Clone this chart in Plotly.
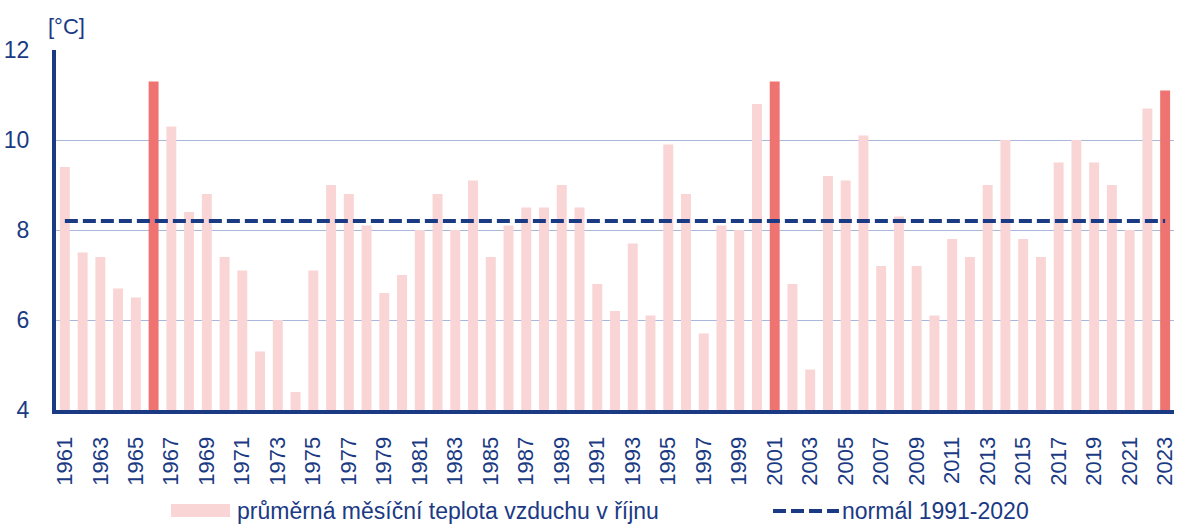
import plotly.graph_objects as go

years = list(range(1961, 2024))
temps = [9.4, 7.5, 7.4, 6.7, 6.5, 11.3, 10.3, 8.4, 8.8, 7.4,
         7.1, 5.3, 6.0, 4.4, 7.1, 9.0, 8.8, 8.1, 6.6, 7.0,
         8.0, 8.8, 8.0, 9.1, 7.4, 8.1, 8.5, 8.5, 9.0, 8.5,
         6.8, 6.2, 7.7, 6.1, 9.9, 8.8, 5.7, 8.1, 8.0, 10.8,
         11.3, 6.8, 4.9, 9.2, 9.1, 10.1, 7.2, 8.3, 7.2, 6.1,
         7.8, 7.4, 9.0, 10.0, 7.8, 7.4, 9.5, 10.0, 9.5, 9.0,
         8.0, 10.7, 11.1]
highlight_years = [1966, 2001, 2023]
normal_value = 8.2
tick_years = list(range(1961, 2024, 2))

bar_label = "průměrná měsíční teplota vzduchu v říjnu"
normal_label = "normál 1991-2020"
unit_label = "[°C]"

PINK = "#f9d5d5"
RED = "#ef7370"
NAVY = "#1b3a84"
GRID = "#a9b7dc"
FONT = "Arial, Liberation Sans, sans-serif"

colors = [RED if y in highlight_years else PINK for y in years]

fig = go.Figure()
fig.add_trace(go.Bar(x=years, y=temps, marker=dict(color=colors, line=dict(width=0)),
                     name=bar_label, showlegend=False))
fig.add_trace(go.Scatter(x=years, y=[normal_value] * len(years), mode="lines",
                         line=dict(color=NAVY, width=4, dash="13px,5px"),
                         name=normal_label, showlegend=False))

W, H = 1177, 525
L, R, T, B = 56, 3, 50, 115
pw = W - L - R
ph = H - T - B


def px(x):
    return (x - L) / pw


def py(y):
    return (H - B - y) / ph


# manual legend
fig.add_shape(type="rect", xref="paper", yref="paper",
              x0=px(171), x1=px(230), y0=py(504), y1=py(517),
              fillcolor=PINK, line=dict(width=0))
fig.add_annotation(xref="paper", yref="paper", x=px(235), y=py(511),
                   text=bar_label, showarrow=False, xanchor="left", yanchor="middle",
                   font=dict(family=FONT, size=23, color=NAVY))
fig.add_shape(type="line", xref="paper", yref="paper",
              x0=px(773), x1=px(839), y0=py(511), y1=py(511),
              line=dict(color=NAVY, width=4, dash="13px,5px"))
fig.add_annotation(xref="paper", yref="paper", x=px(840), y=py(511),
                   text=normal_label, showarrow=False, xanchor="left", yanchor="middle",
                   font=dict(family=FONT, size=23, color=NAVY))
fig.add_annotation(xref="paper", yref="paper", x=px(66), y=py(26),
                   text=unit_label, showarrow=False, xanchor="center", yanchor="middle",
                   font=dict(family=FONT, size=22, color=NAVY))

fig.update_layout(
    width=W, height=H,
    margin=dict(l=L, r=R, t=T, b=B, pad=0),
    plot_bgcolor="white", paper_bgcolor="white",
    bargap=0.44,
    font=dict(family=FONT, color=NAVY),
    showlegend=False,
)
fig.update_xaxes(range=[1960.5, 2023.5], tickvals=tick_years, ticktext=[str(y) for y in tick_years],
                 tickangle=-90, tickfont=dict(size=22, color=NAVY, family=FONT),
                 showline=True, linecolor=NAVY, linewidth=4, showgrid=False,
                 ticks="", ticklabelstandoff=14, zeroline=False, automargin=False,
                 ticklabeloverflow="allow")
fig.update_yaxes(range=[4, 12], tickvals=[4, 6, 8, 10, 12],
                 tickfont=dict(size=23, color=NAVY, family=FONT),
                 showline=True, linecolor=NAVY, linewidth=4,
                 showgrid=True, gridcolor=GRID, gridwidth=1,
                 ticks="", ticklabelstandoff=18, zeroline=False, automargin=False)

fig.write_html("out.html", config={"displayModeBar": False},
               post_script="document.body.style.margin='0';document.body.style.overflow='hidden';")
